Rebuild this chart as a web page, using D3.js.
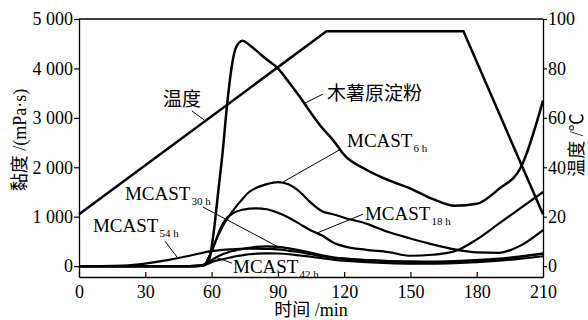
<html>
<head>
<meta charset="utf-8">
<script src="https://cdn.jsdelivr.net/npm/d3@7"></script>
<style>
body { margin: 0; background: #fff; }
text { font-family: "Liberation Serif", "Noto Sans CJK SC", serif; fill: #000; }
</style>
</head>
<body>
<script>
// sample times (min) shared by the viscosity curves
var minutes = [0, 10, 20, 30, 40, 50, 55, 57, 59, 61, 63, 65, 67, 69, 71, 74, 77, 80, 85, 90, 95, 100, 105, 110, 115, 120, 130, 140, 150, 160, 170, 180, 190, 200, 210];

// viscosity, mPa·s
var starch = [0, 0, 0, 0, 0, 0, 10, 30, 150, 700, 1500, 2300, 3250, 4000, 4420, 4560, 4480, 4370, 4180, 4000, 3720, 3420, 3100, 2800, 2550, 2250, 1950, 1740, 1570, 1360, 1220, 1260, 1560, 2000, 3350];
var mcast6 = [0, 0, 0, 0, 0, 0, 10, 40, 200, 420, 620, 800, 950, 1080, 1200, 1360, 1500, 1580, 1660, 1700, 1650, 1500, 1280, 1110, 1050, 980, 860, 690, 560, 440, 340, 280, 270, 420, 730];
var mcast18 = [0, 0, 0, 0, 0, 0, 10, 40, 200, 400, 650, 850, 980, 1050, 1100, 1140, 1165, 1170, 1150, 1080, 980, 850, 720, 620, 480, 400, 330, 285, 210, 230, 300, 540, 860, 1180, 1500];
var mcast30 = [0, 0, 0, 0, 0, 0, 5, 30, 90, 150, 200, 240, 270, 300, 320, 350, 370, 390, 400, 390, 360, 320, 270, 220, 180, 150, 120, 100, 90, 90, 100, 120, 150, 200, 260];
var mcast42 = [0, 0, 0, 0, 0, 0, 5, 20, 60, 100, 120, 140, 160, 180, 200, 220, 240, 250, 260, 255, 240, 215, 190, 160, 130, 110, 80, 60, 50, 50, 60, 80, 110, 150, 200];
var mcast54 = [0, 0, 10, 50, 120, 210, 260, 280, 300, 310, 320, 330, 335, 340, 345, 350, 355, 355, 350, 340, 310, 280, 240, 200, 170, 150, 120, 100, 90, 80, 90, 110, 140, 190, 250];

// temperature programme, °C
var tempMinutes = [0, 112, 174, 210];
var tempValues = [21, 95, 95, 21];

// ticks
var xTicks = [0, 30, 60, 90, 120, 150, 180, 210];
var yLeftTicks = [0, 1000, 2000, 3000, 4000, 5000];
var yLeftLabels = ["0", "1 000", "2 000", "3 000", "4 000", "5 000"];
var yRightTicks = [0, 20, 40, 60, 80, 100];

var svg = d3.select("body").append("svg").attr("width", 588).attr("height", 320);

var x = d3.scaleLinear().domain([0, 210]).range([79, 543]);
var yL = d3.scaleLinear().domain([-220, 5000]).range([277, 19]);
var yR = d3.scaleLinear().domain([-4.4, 100]).range([277, 19]);

//axes
var axisStyle = function(g) {
    g.select(".domain").attr("stroke", "#000").attr("stroke-width", 1.3);
    g.selectAll(".tick line").attr("stroke", "#000").attr("stroke-width", 1.2);
    g.selectAll(".tick text").attr("font-size", "18px").attr("font-family", "Liberation Serif, serif");
};

svg.append("g").attr("transform", "translate(0,277)")
    .call(d3.axisBottom(x).tickValues(xTicks).tickSizeInner(-5).tickSizeOuter(0).tickPadding(8))
    .call(axisStyle);

svg.append("g").attr("transform", "translate(79,0)")
    .call(d3.axisLeft(yL).tickValues(yLeftTicks).tickFormat(function(d, i) { return yLeftLabels[i]; })
        .tickSize(5).tickSizeOuter(0).tickPadding(1))
    .call(axisStyle);

svg.append("g").attr("transform", "translate(543,0)")
    .call(d3.axisRight(yR).tickValues(yRightTicks).tickSize(4).tickSizeOuter(0).tickPadding(1))
    .call(axisStyle);

//top border
svg.append("line").attr("x1", x(0)).attr("x2", x(210)).attr("y1", yL(5000)).attr("y2", yL(5000))
    .attr("stroke", "#000").attr("stroke-width", 1.3);

//curves
var viscLine = d3.line()
    .x(function(d, i) { return x(minutes[i]); })
    .y(function(d) { return yL(d); })
    .curve(d3.curveMonotoneX);

var series = [mcast54, mcast42, mcast30, mcast18, mcast6, starch];
var widths = [2.2, 2.2, 2.2, 2.2, 2.2, 2.5];
series.forEach(function(s, k) {
    svg.append("path").datum(s).attr("d", viscLine)
        .attr("fill", "none").attr("stroke", "#000").attr("stroke-width", widths[k]);
});

var tempLine = d3.line()
    .x(function(d, i) { return x(tempMinutes[i]); })
    .y(function(d) { return yR(d); });

svg.append("path").datum(tempValues).attr("d", tempLine)
    .attr("fill", "none").attr("stroke", "#000").attr("stroke-width", 2.5).attr("stroke-linejoin", "miter");

//labels with leader lines (positions in minutes / mPa·s)
var labels = [
    { text: "温度", sub: "", t: 38, v: 3240, lx1: 51.1, lv1: 3140, lx2: 57.5, lv2: 2930 },
    { text: "木薯原淀粉", sub: "", t: 112.2, v: 3360, lx1: 110.4, lv1: 3480, lx2: 102.3, lv2: 3300 },
    { text: "MCAST", sub: "6 h", t: 121.3, v: 2410, lx1: 118.6, lv1: 2370, lx2: 92.3, lv2: 1700 },
    { text: "MCAST", sub: "18 h", t: 129.4, v: 930, lx1: 128.5, lv1: 1050, lx2: 107.7, lv2: 670 },
    { text: "MCAST", sub: "30 h", t: 20.8, v: 1340, lx1: 56.1, lv1: 1195, lx2: 90.1, lv2: 390 },
    { text: "MCAST", sub: "54 h", t: 6.3, v: 690, lx1: 38.9, lv1: 506, lx2: 44.4, lv2: 180 },
    { text: "MCAST", sub: "42 h", t: 69.7, v: -140, lx1: 69.2, lv1: 60, lx2: 62.5, lv2: 170 }
];

labels.forEach(function(d) {
    svg.append("line")
        .attr("x1", x(d.lx1)).attr("y1", yL(d.lv1))
        .attr("x2", x(d.lx2)).attr("y2", yL(d.lv2))
        .attr("stroke", "#000").attr("stroke-width", 1);
    var t = svg.append("text").attr("x", x(d.t)).attr("y", yL(d.v)).attr("font-size", "19px");
    t.append("tspan").text(d.text);
    if (d.sub) {
        t.append("tspan").text(d.sub).attr("font-size", "11px").attr("dy", 5).attr("dx", 1);
    }
});

//axis titles
svg.append("text").attr("x", x(105)).attr("y", 316).attr("text-anchor", "middle")
    .attr("font-size", "18px").text("时间 /min");

svg.append("text").attr("transform", "translate(20,140) rotate(-90)").attr("text-anchor", "middle")
    .attr("dy", "0.35em").attr("font-size", "18px").text("黏度 /(mPa·s)");

svg.append("text").attr("transform", "translate(577,145) rotate(-90)").attr("text-anchor", "middle")
    .attr("dy", "0.35em").attr("font-size", "18px").text("温度 /℃");
</script>
</body>
</html>
